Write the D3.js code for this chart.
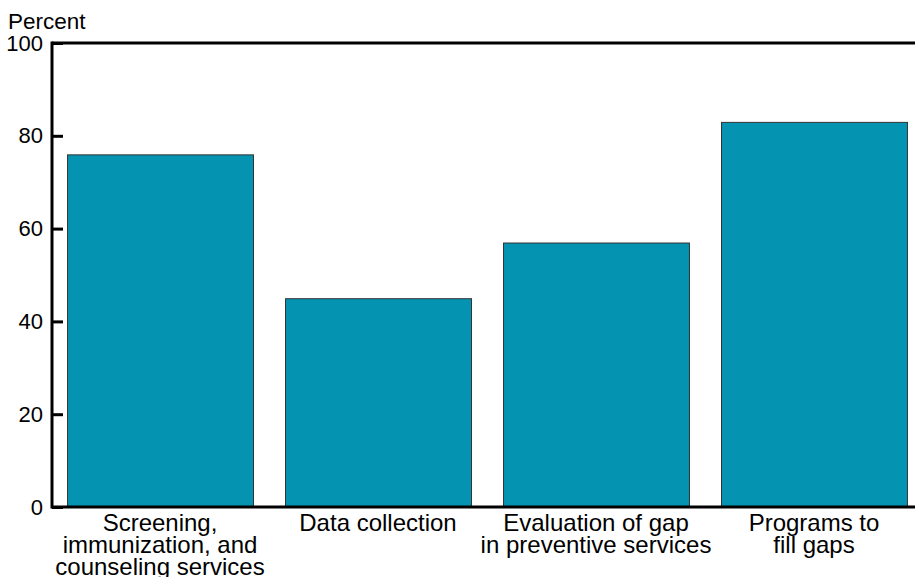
<!DOCTYPE html>
<html>
<head>
<meta charset="utf-8">
<script src="https://cdn.jsdelivr.net/npm/d3@7"></script>
<style>
  body { margin: 0; background: #fff; }
  text { font-family: "Liberation Sans", Arial, sans-serif; fill: #000; }
</style>
</head>
<body>
<div id="chart"></div>
<script>
var categories = [
  ["Screening,", "immunization, and", "counseling services"],
  ["Data collection"],
  ["Evaluation of gap", "in preventive services"],
  ["Programs to", "fill gaps"]
];
var values = [76, 45, 57, 83];
var yTicks = [0, 20, 40, 60, 80, 100];

var width = 915,
  height = 577;
var plotLeft = 52,
  plotRight = 922,
  plotTop = 43,
  plotBottom = 507;

var svg = d3
  .select("#chart")
  .append("svg")
  .attr("width", width)
  .attr("height", height);

var x = d3
  .scaleBand()
  .domain(d3.range(values.length))
  .range([plotLeft, plotRight])
  .paddingInner(0.147)
  .paddingOuter(0.069);

var y = d3.scaleLinear().domain([0, 100]).range([plotBottom, plotTop]);

// bars
svg
  .selectAll("rect.bar")
  .data(values)
  .enter()
  .append("rect")
  .attr("class", "bar")
  .attr("x", function(d, i) {
    return x(i) + 0.5;
  })
  .attr("y", function(d) {
    return y(d) + 0.5;
  })
  .attr("width", x.bandwidth())
  .attr("height", function(d) {
    return y(0) - y(d);
  })
  .attr("fill", "#0493b0")
  .attr("stroke", "#333")
  .attr("stroke-width", 1);

// y axis, ticks pointing inward
var yAxis = d3
  .axisLeft(y)
  .tickValues(yTicks)
  .tickSize(0)
  .tickPadding(9);

var gy = svg
  .append("g")
  .attr("transform", "translate(" + plotLeft + ",0)")
  .call(yAxis);
gy.select(".domain").remove();
gy.selectAll(".tick text")
  .attr("font-size", "22px")
  .attr("font-family", "Liberation Sans, Arial, sans-serif")
  .attr("fill", "#000");
gy.selectAll(".tick")
  .append("line")
  .attr("x1", 0)
  .attr("x2", 11)
  .attr("stroke", "#000")
  .attr("stroke-width", 3);

// frame lines: left, top, bottom
svg
  .append("line")
  .attr("x1", plotLeft)
  .attr("x2", plotLeft)
  .attr("y1", plotTop - 1.5)
  .attr("y2", plotBottom + 1.5)
  .attr("stroke", "#000")
  .attr("stroke-width", 3);
svg
  .append("line")
  .attr("x1", plotLeft)
  .attr("x2", width)
  .attr("y1", plotTop)
  .attr("y2", plotTop)
  .attr("stroke", "#000")
  .attr("stroke-width", 3);
svg
  .append("line")
  .attr("x1", plotLeft)
  .attr("x2", width)
  .attr("y1", plotBottom)
  .attr("y2", plotBottom)
  .attr("stroke", "#000")
  .attr("stroke-width", 3);

// y label
svg
  .append("text")
  .attr("x", 8)
  .attr("y", 29)
  .attr("font-size", "22.5px")
  .text("Percent");

// category labels
svg
  .selectAll("text.cat")
  .data(categories)
  .enter()
  .append("text")
  .attr("class", "cat")
  .attr("text-anchor", "middle")
  .attr("font-size", "24px")
  .attr("y", 531)
  .each(function(lines, i) {
    var t = d3.select(this);
    lines.forEach(function(line, j) {
      t.append("tspan")
        .attr("x", x(i) + x.bandwidth() / 2)
        .attr("dy", j === 0 ? 0 : 22)
        .text(line);
    });
  });
</script>
</body>
</html>
